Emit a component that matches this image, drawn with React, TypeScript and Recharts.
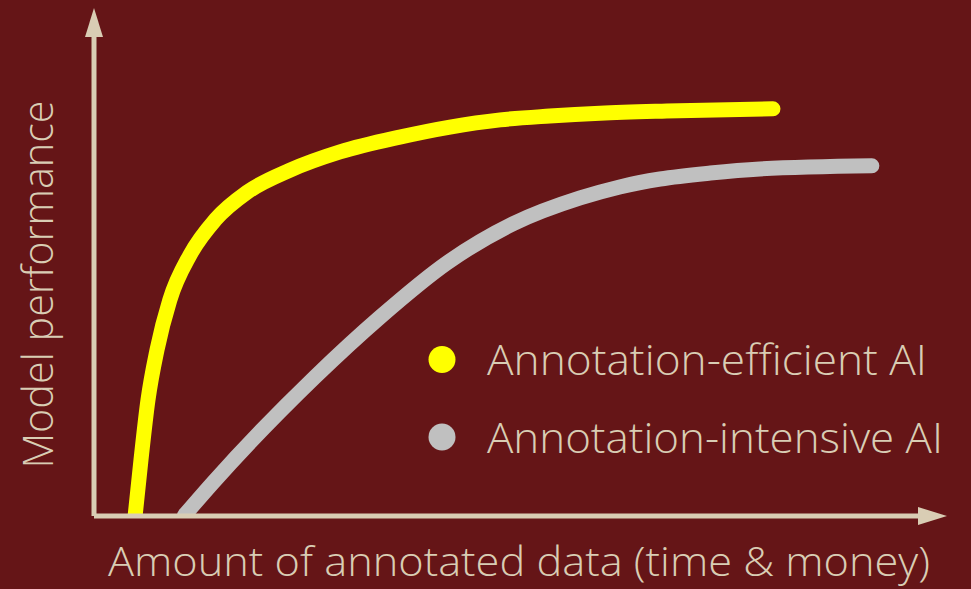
import React from "react"
import { LineChart, Line, XAxis, YAxis } from "recharts"

// curve points (arbitrary units, 0-100)
const efficientAmount = [5.0, 5.7, 6.55, 7.65, 9.2, 11.65, 14.7, 18.6, 23.8, 29.85, 37.1, 43.2, 49.3, 55.3, 61.4, 69.5, 82.4]
const efficientPerf = [0.2, 11.7, 24.2, 34.7, 45.1, 54.5, 61.8, 67.6, 72.2, 76.0, 79.1, 81.2, 82.7, 83.5, 84.1, 84.55, 85.0]

const intensiveAmount = [11.0, 14.4, 26.8, 34.7, 42.8, 50.85, 59.0, 63.8, 68.7, 74.8, 80.8, 94.4]
const intensivePerf = [0.2, 6.9, 29.0, 41.5, 52.8, 61.0, 66.4, 68.7, 70.35, 71.6, 72.45, 73.1]

const seriesNames = ["Annotation-efficient AI", "Annotation-intensive AI"]
const seriesColors = ["#FFFF00", "#C0C0C0"]
const xTitle = "Amount of annotated data (time & money)"
const yTitle = "Model performance"

const efficientData = efficientAmount.map((x, i) => ({ x, y: efficientPerf[i] }))
const intensiveData = intensiveAmount.map((x, i) => ({ x, y: intensivePerf[i] }))

const BG = "#651517"
const AXIS = "#D9CDB4"
const FONT = "'Open Sans', 'Noto Sans', sans-serif"
const legendWidths = [440, 456]

const XTitle = (props: any) => {
  const vb = props.viewBox || { x: 94, y: 516 }
  return (
    <text
      x={vb.x + 14}
      y={vb.y + 60}
      fill={AXIS}
      fontSize={41}
      fontWeight={300}
      fontFamily={FONT}
      textLength={822}
      lengthAdjust="spacingAndGlyphs"
    >
      {xTitle}
    </text>
  )
}

const YTitle = (props: any) => {
  const vb = props.viewBox || { x: 0, y: 37, height: 479 }
  return (
    <text
      transform={`translate(${vb.x + 53}, ${vb.y + vb.height / 2 + 8}) rotate(-90)`}
      textAnchor="middle"
      fill={AXIS}
      fontSize={42}
      fontWeight={300}
      fontFamily={FONT}
      textLength={368}
      lengthAdjust="spacingAndGlyphs"
    >
      {yTitle}
    </text>
  )
}

// legend drawn as an overlay so it doesn't eat into the plot area
const LegendBox = () => (
  <svg width={530} height={140} style={{ position: "absolute", left: 425, top: 330 }}>
    {seriesNames.map((name, i) => (
      <g key={name}>
        <circle cx={17} cy={29.5 + i * 77.5} r={13.5} fill={seriesColors[i]} />
        <text
          x={62}
          y={45 + i * 78}
          fill={AXIS}
          fontSize={42}
          fontWeight={300}
          fontFamily={FONT}
          textLength={legendWidths[i]}
          lengthAdjust="spacingAndGlyphs"
        >
          {name}
        </text>
      </g>
    ))}
  </svg>
)

export default function App() {
  return (
    <div style={{ position: "absolute", left: 0, top: 0, width: 971, height: 589, background: BG }}>
      <LineChart width={971} height={589} margin={{ top: 37, right: 53, bottom: 0, left: 0 }}>
        <defs>
          <marker
            id="arrowHead"
            markerUnits="userSpaceOnUse"
            markerWidth={30}
            markerHeight={18}
            viewBox="0 0 30 18"
            refX={0}
            refY={9}
            orient="auto-start-reverse"
          >
            <path d="M0,0 L29,9 L0,18 Z" fill={AXIS} />
          </marker>
        </defs>
        <XAxis
          dataKey="x"
          type="number"
          domain={[0, 100]}
          allowDataOverflow
          height={73}
          tick={false}
          tickLine={false}
          axisLine={{ stroke: AXIS, strokeWidth: 5, markerEnd: "url(#arrowHead)" }}
          label={XTitle}
        />
        <YAxis
          dataKey="y"
          type="number"
          domain={[0, 100]}
          allowDataOverflow
          width={94}
          tick={false}
          tickLine={false}
          axisLine={{ stroke: AXIS, strokeWidth: 5, markerStart: "url(#arrowHead)" }}
          label={YTitle}
        />
        <Line
          data={efficientData}
          dataKey="y"
          name={seriesNames[0]}
          type="monotone"
          stroke={seriesColors[0]}
          strokeWidth={15}
          strokeLinecap="round"
          dot={false}
          isAnimationActive={false}
        />
        <Line
          data={intensiveData}
          dataKey="y"
          name={seriesNames[1]}
          type="monotone"
          stroke={seriesColors[1]}
          strokeWidth={15}
          strokeLinecap="round"
          dot={false}
          isAnimationActive={false}
        />
      </LineChart>
      <LegendBox />
    </div>
  )
}
